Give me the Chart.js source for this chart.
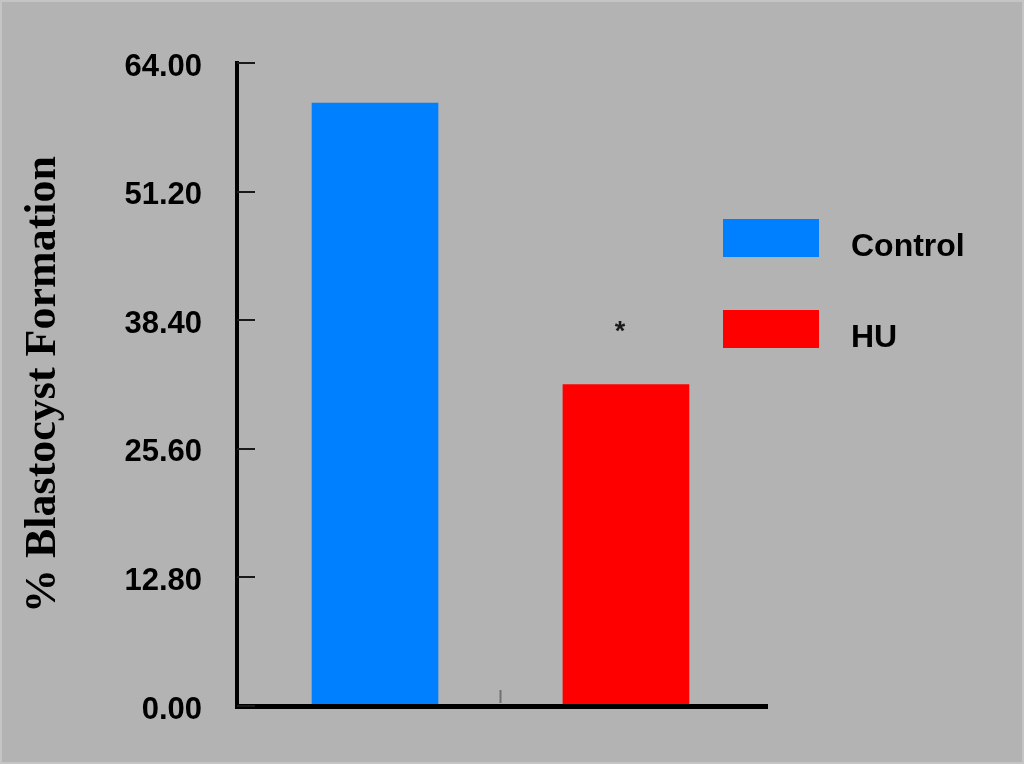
<!DOCTYPE html>
<html><head><meta charset="utf-8">
<script src="https://cdn.jsdelivr.net/npm/chart.js@4/dist/chart.umd.min.js"></script>
<style>html,body{margin:0;padding:0;background:#b3b3b3;overflow:hidden}canvas{display:block}</style>
</head><body>
<canvas id="c" width="1024" height="764"></canvas>
<script>
const categories = ['Control', 'HU'];
const values = [60.0, 32.0];
const markers = ['', '*'];
const barColors = ['#0080ff', '#ff0000'];
const yTickValues = [0, 12.8, 25.6, 38.4, 51.2, 64];
const yAxisTitle = '% Blastocyst Formation';

const bgPlugin = {
  id: 'bg',
  beforeDraw(chart) {
    const { ctx, width, height } = chart;
    ctx.save();
    ctx.fillStyle = '#b3b3b3';
    ctx.fillRect(0, 0, width, height);
    ctx.strokeStyle = '#c4c4c4';
    ctx.lineWidth = 2;
    ctx.strokeRect(1, 1, width - 2, height - 2);
    ctx.restore();
  }
};

const decoPlugin = {
  id: 'deco',
  afterDraw(chart) {
    const { ctx, chartArea, scales: { x, y } } = chart;
    ctx.save();
    // inward y ticks
    ctx.strokeStyle = '#1a1a1a';
    ctx.lineWidth = 2;
    y.ticks.forEach(t => {
      const py = Math.round(y.getPixelForValue(t.value));
      ctx.beginPath();
      ctx.moveTo(chartArea.left, py);
      ctx.lineTo(chartArea.left + 18, py);
      ctx.stroke();
    });
    // separator tick between categories
    ctx.strokeStyle = '#707070';
    for (let i = 1; i < categories.length; i++) {
      const px = Math.round(x.getPixelForValue(i + 0.5)) + 0.5;
      ctx.beginPath();
      ctx.moveTo(px, chartArea.bottom - 3);
      ctx.lineTo(px, chartArea.bottom - 16);
      ctx.stroke();
    }
    // significance markers
    ctx.fillStyle = '#1a1a1a';
    ctx.font = 'bold 27px "Liberation Sans", Arial, sans-serif';
    ctx.textAlign = 'center';
    ctx.textBaseline = 'alphabetic';
    markers.forEach((m, i) => {
      if (!m) return;
      const px = x.getPixelForValue(i + 1) - 6;
      const py = y.getPixelForValue(values[i]) - 45;
      ctx.fillText(m, px, py);
    });
    // legend
    const lg = { x: 723, y: 219, w: 96, h: 38, gap: 91, textX: 851 };
    ctx.textAlign = 'left';
    ctx.font = 'bold 32px "Liberation Sans", Arial, sans-serif';
    chart.data.datasets.forEach((ds, i) => {
      const top = lg.y + i * lg.gap;
      ctx.fillStyle = ds.backgroundColor;
      ctx.fillRect(lg.x, top, lg.w, lg.h);
      ctx.fillStyle = '#000';
      ctx.fillText(ds.label, lg.textX, top + lg.h - 1);
    });
    ctx.restore();
  }
};

const datasets = categories.map((c, i) => ({
  label: c,
  data: [{ x: i + 1, y: values[i] }],
  backgroundColor: barColors[i],
  borderWidth: 0,
  barThickness: 126,
  grouped: false
}));

new Chart(document.getElementById('c'), {
  type: 'bar',
  data: { datasets },
  options: {
    responsive: false,
    animation: false,
    devicePixelRatio: 1,
    layout: { padding: { top: 63, right: 257, bottom: 0, left: 0 } },
    plugins: { legend: { display: false }, tooltip: { enabled: false } },
    scales: {
      x: {
        type: 'linear', min: 0.45, max: 2.562, offset: false,
        afterFit: s => { s.height = 58; },
        grid: { display: false, drawTicks: false },
        border: { display: true, width: 5, color: '#000', z: 1 },
        ticks: { display: false }
      },
      y: {
        min: 0, max: 64,
        afterBuildTicks: s => { s.ticks = yTickValues.map(v => ({ value: v })); },
        afterFit: s => { s.width = 237; },
        grid: { display: false, drawTicks: false },
        border: { display: true, width: 4, color: '#000', z: 1 },
        ticks: {
          padding: 35, labelOffset: 4, color: '#000',
          font: { family: '"Liberation Sans", Arial, sans-serif', size: 31, weight: 'bold' },
          callback: v => Number(v).toFixed(2)
        },
        title: {
          display: true, text: yAxisTitle, color: '#000',
          font: { family: '"Liberation Serif", "Times New Roman", serif', size: 44, weight: 'bold' },
          padding: { top: 17, bottom: 0 }
        }
      }
    }
  },
  plugins: [bgPlugin, decoPlugin]
});
</script>
</body></html>
